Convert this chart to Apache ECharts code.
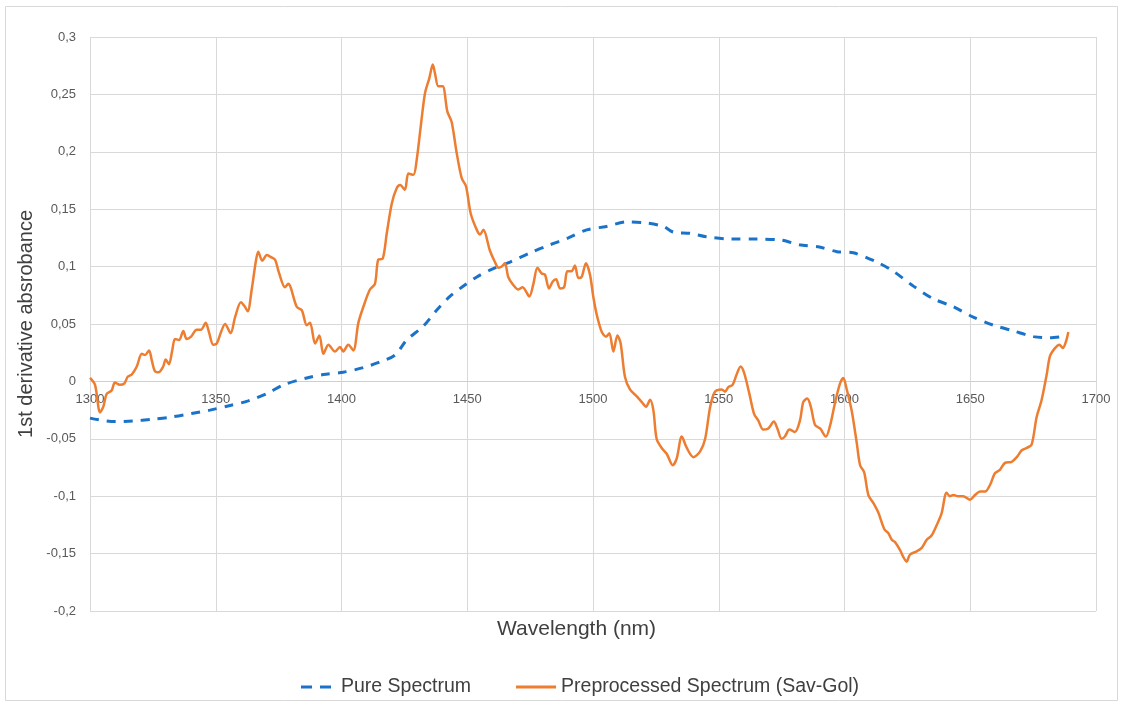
<!DOCTYPE html>
<html>
<head>
<meta charset="utf-8">
<script src="https://cdn.jsdelivr.net/npm/echarts@6/dist/echarts.min.js"></script>
<style>
html,body{margin:0;padding:0;background:#fff;}
#chart{width:1132px;height:707px;}
</style>
</head>
<body>
<div id="chart"></div>
<script>
var xTicks = [1300, 1350, 1400, 1450, 1500, 1550, 1600, 1650, 1700];
var yTicks = [-0.2, -0.15, -0.1, -0.05, 0, 0.05, 0.1, 0.15, 0.2, 0.25, 0.3];
var seriesNames = ['Pure Spectrum', 'Preprocessed Spectrum (Sav-Gol)'];
var xTitle = 'Wavelength (nm)';
var yTitle = '1st derivative absrobance';

var pureSpectrum = [
[1300,-0.032],[1305,-0.034],[1310,-0.035],[1317,-0.0345],[1324.5,-0.033],[1332.5,-0.031],[1340.4,-0.028],
[1347.7,-0.025],[1355.7,-0.021],[1362.9,-0.017],[1370.9,-0.010],[1376.9,-0.003],[1386.2,0.003],[1392.8,0.006],
[1400.7,0.008],[1408.7,0.012],[1415.3,0.017],[1421.3,0.023],[1425.9,0.036],[1432.5,0.048],[1437.8,0.062],
[1443.1,0.074],[1447.8,0.082],[1453.8,0.091],[1459,0.097],[1467,0.104],[1475,0.112],[1482.9,0.119],
[1490.2,0.125],[1497.5,0.132],[1505.4,0.135],[1513.4,0.139],[1521.3,0.138],[1528,0.135],[1532,0.130],
[1538.6,0.129],[1545,0.126],[1555,0.124],[1565,0.124],[1575,0.123],[1582,0.119],[1590,0.117],[1597,0.113],
[1603.5,0.112],[1612.8,0.104],[1619.4,0.096],[1627.4,0.083],[1635.3,0.072],[1643.3,0.065],[1651.2,0.056],
[1659.2,0.049],[1667.1,0.044],[1675.1,0.039],[1681.7,0.038],[1687,0.039]
];

var preprocessedSpectrum = [
[1300.0,0.003],[1302.0,-0.003],[1304.0,-0.027],[1305.3,-0.022],[1306.6,-0.011],[1308.6,-0.008],[1309.9,-0.001],
[1311.9,-0.003],[1313.6,-0.002],[1315.0,0.004],[1316.6,0.006],[1318.6,0.013],[1320.6,0.024],[1321.9,0.023],
[1323.5,0.027],[1324.5,0.019],[1325.8,0.009],[1327.4,0.008],[1329.1,0.013],[1330.1,0.019],[1331.4,0.015],
[1332.7,0.027],[1333.8,0.037],[1335.4,0.036],[1337.1,0.044],[1338.4,0.037],[1340.2,0.039],[1342.4,0.045],
[1344.1,0.045],[1346.0,0.051],[1347.3,0.043],[1349.0,0.032],[1350.4,0.033],[1352.1,0.043],[1353.7,0.050],
[1355.9,0.042],[1357.7,0.056],[1360.0,0.069],[1361.6,0.065],[1362.7,0.061],[1364.3,0.080],[1365.9,0.104],
[1366.9,0.113],[1368.5,0.105],[1370.3,0.110],[1372.2,0.108],[1373.6,0.106],[1375.1,0.095],[1377.5,0.082],
[1378.8,0.085],[1382.2,0.065],[1384.2,0.062],[1386.2,0.049],[1387.5,0.051],[1389.5,0.033],[1391.2,0.040],
[1392.8,0.024],[1394.8,0.032],[1397.4,0.026],[1399.4,0.030],[1400.7,0.026],[1402.7,0.032],[1404.7,0.027],
[1406.7,0.051],[1408.7,0.065],[1411.3,0.080],[1413.3,0.085],[1414.6,0.106],[1416.4,0.107],[1418.0,0.129],
[1420.0,0.155],[1421.9,0.168],[1423.3,0.171],[1425.2,0.167],[1426.6,0.181],[1428.6,0.180],[1429.9,0.193],
[1431.5,0.222],[1433.2,0.251],[1434.9,0.264],[1436.3,0.276],[1437.2,0.268],[1438.5,0.257],[1440.2,0.257],
[1442.1,0.235],[1443.8,0.226],[1445.8,0.199],[1447.8,0.177],[1449.5,0.170],[1451.4,0.146],[1453.8,0.132],
[1455.1,0.128],[1456.4,0.132],[1459.0,0.114],[1461.0,0.104],[1462.4,0.099],[1463.7,0.100],[1465.0,0.103],
[1466.3,0.091],[1468.3,0.084],[1470.3,0.080],[1472.0,0.082],[1474.7,0.074],[1476.3,0.085],[1477.9,0.099],
[1479.6,0.094],[1480.9,0.093],[1482.5,0.081],[1484.0,0.087],[1485.3,0.089],[1486.9,0.081],[1488.5,0.082],
[1489.8,0.096],[1491.5,0.096],[1492.8,0.101],[1494.2,0.090],[1495.5,0.091],[1497.2,0.103],[1498.8,0.093],
[1500.1,0.074],[1501.5,0.058],[1503.5,0.043],[1505.2,0.039],[1506.5,0.042],[1508.1,0.026],[1509.7,0.040],
[1511.0,0.033],[1512.7,0.004],[1514.7,-0.007],[1517.4,-0.013],[1519.4,-0.018],[1521.1,-0.022],[1522.7,-0.016],
[1524.0,-0.025],[1525.3,-0.050],[1527.3,-0.058],[1529.3,-0.063],[1531.7,-0.073],[1533.3,-0.067],[1535.3,-0.048],
[1537.3,-0.058],[1539.9,-0.066],[1542.6,-0.061],[1544.6,-0.050],[1546.6,-0.022],[1548.5,-0.009],[1551.2,-0.007],
[1552.5,-0.009],[1553.8,-0.005],[1555.5,-0.003],[1557.1,0.006],[1558.7,0.013],[1560.0,0.008],[1562.1,-0.010],
[1564.0,-0.028],[1565.7,-0.034],[1567.7,-0.042],[1569.7,-0.041],[1571.9,-0.035],[1573.3,-0.041],[1575.0,-0.050],
[1576.3,-0.048],[1578.1,-0.042],[1580.3,-0.044],[1582.3,-0.034],[1583.6,-0.018],[1585.2,-0.015],[1586.6,-0.022],
[1588.3,-0.038],[1590.3,-0.041],[1592.6,-0.048],[1594.2,-0.039],[1596.2,-0.019],[1598.2,-0.002],[1599.5,0.003],
[1600.9,-0.007],[1602.9,-0.026],[1604.9,-0.054],[1606.2,-0.073],[1607.8,-0.079],[1609.5,-0.099],[1611.5,-0.106],
[1613.4,-0.114],[1615.9,-0.129],[1617.4,-0.132],[1618.8,-0.138],[1620.1,-0.140],[1622.1,-0.147],[1623.4,-0.153],
[1624.7,-0.157],[1626.0,-0.151],[1628.7,-0.148],[1630.7,-0.145],[1632.7,-0.138],[1634.7,-0.134],[1636.7,-0.125],
[1638.6,-0.115],[1640.6,-0.097],[1641.9,-0.100],[1643.3,-0.099],[1645.2,-0.100],[1647.2,-0.100],[1649.9,-0.103],
[1651.9,-0.099],[1653.9,-0.096],[1655.9,-0.096],[1657.9,-0.090],[1659.8,-0.080],[1661.8,-0.077],[1663.8,-0.071],
[1666.5,-0.070],[1668.5,-0.066],[1670.5,-0.060],[1672.4,-0.058],[1674.4,-0.055],[1676.4,-0.031],[1678.4,-0.016],
[1680.4,0.006],[1681.7,0.022],[1683.7,0.029],[1685.4,0.032],[1686.8,0.029],[1688.1,0.035],[1689.0,0.043]
];

var FONT = '"Liberation Sans", Arial, sans-serif';
var BLUE = '#1a73c8', ORANGE = '#ed7d31';
var chart = echarts.init(document.getElementById('chart'), null, {renderer: 'canvas'});

function fmtY(v) {
  var s = String(Math.round(v * 100) / 100);
  return s.replace('.', ',');
}

var gridTop = 37, gridBottom = 96, plotH = 707 - gridTop - gridBottom;
var yMin = yTicks[0], yMax = yTicks[yTicks.length - 1];
// distance of the zero line above the bottom of the plot area
var zeroOffset = plotH * (0 - yMin) / (yMax - yMin);

chart.setOption({
  backgroundColor: '#ffffff',
  animation: false,
  grid: {left: 90, right: 36, top: gridTop, bottom: gridBottom, containLabel: false},
  legend: {
    left: 296, top: 672,
    itemWidth: 40, itemHeight: 3, itemGap: 45,
    textStyle: {fontFamily: FONT, fontSize: 19.5, color: '#404040'},
    data: [
      {name: seriesNames[0], icon: 'path://M0,0H11V3H0Z M19,0H30V3H19Z', itemStyle: {color: BLUE}},
      {name: seriesNames[1], icon: 'path://M0,0H40V3H0Z', itemStyle: {color: ORANGE}}
    ]
  },
  xAxis: {
    type: 'value',
    min: xTicks[0], max: xTicks[xTicks.length - 1], interval: 50,
    offset: -zeroOffset,
    axisLine: {show: true, onZero: false, lineStyle: {color: '#cfcfcf', width: 1}},
    axisTick: {show: false},
    axisLabel: {
      show: true, margin: 12, color: '#595959', fontFamily: FONT, fontSize: 13,
      showMinLabel: true, showMaxLabel: true,
      formatter: function (v) { return String(v); }
    },
    splitLine: {show: true, lineStyle: {color: '#d9d9d9', width: 1}}
  },
  yAxis: {
    type: 'value',
    min: yMin, max: yMax, interval: 0.05,
    axisLine: {show: false},
    axisTick: {show: false},
    axisLabel: {margin: 14, color: '#595959', fontFamily: FONT, fontSize: 13, formatter: fmtY},
    splitLine: {show: true, lineStyle: {color: '#d9d9d9', width: 1}}
  },
  graphic: [
    {type: 'rect', shape: {x: 5.5, y: 6.5, width: 1112, height: 694}, style: {fill: 'none', stroke: '#d9d9d9', lineWidth: 1}, silent: true, z: -1},
    {type: 'text', left: 497, top: 619, style: {text: xTitle, font: '21px ' + FONT, fill: '#404040'}},
    {type: 'text', left: 16, top: 210, rotation: Math.PI / 2,
     style: {text: yTitle, font: '20px ' + FONT, fill: '#404040'}}
  ],
  series: [
    {
      name: seriesNames[0], type: 'line', data: pureSpectrum,
      showSymbol: false, symbol: 'none', smooth: 0.3,
      lineStyle: {color: BLUE, width: 3, type: [9, 8]},
      itemStyle: {color: BLUE}, z: 2
    },
    {
      name: seriesNames[1], type: 'line', data: preprocessedSpectrum,
      showSymbol: false, symbol: 'none', smooth: 0.3,
      lineStyle: {color: ORANGE, width: 2.5},
      itemStyle: {color: ORANGE}, z: 3
    }
  ]
});
</script>
</body>
</html>
